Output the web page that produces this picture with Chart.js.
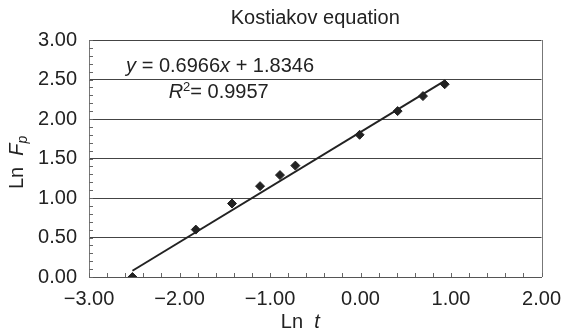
<!DOCTYPE html>
<html><head><meta charset="utf-8">
<script src="https://cdn.jsdelivr.net/npm/chart.js@4/dist/chart.umd.min.js"></script>
<style>html,body{margin:0;padding:0;background:#fff;}</style>
</head><body>
<canvas id="c" width="571" height="334" style="width:571px;height:334px;display:block"></canvas>
<script>
// Data
const lnT  = [-2.52, -1.82, -1.42, -1.11, -0.89, -0.72, -0.01, 0.41, 0.69, 0.93];
const lnFp = [ 0.00,  0.60,  0.93,  1.15,  1.29,  1.41,  1.80, 2.10, 2.29, 2.44];
const xTickLabels = ['\u22123.00','\u22122.00','\u22121.00','0.00','1.00','2.00'];
const yTickLabels = ['0.00','0.50','1.00','1.50','2.00','2.50','3.00'];
const titleText = 'Kostiakov equation';
const slope = 0.6966, intercept = 1.8346, r2 = '0.9957';

const FONT = '"Liberation Sans", Arial, Helvetica, sans-serif';
const INK = '#222';
const FS = 20;

const points = lnT.map((x, i) => ({x: x, y: lnFp[i]}));
const xMin = Math.min(...lnT), xMax = Math.max(...lnT);
const trend = [{x: xMin, y: slope * xMin + intercept}, {x: xMax, y: slope * xMax + intercept}];

function drawRuns(ctx, runs, x, y) {
  let cx = x;
  for (const r of runs) {
    ctx.font = (r.italic ? 'italic ' : '') + (r.size || FS) + 'px ' + FONT;
    ctx.fillText(r.t, cx, y + (r.dy || 0));
    cx += ctx.measureText(r.t).width;
  }
  return cx - x;
}
function measureRuns(ctx, runs) {
  let w = 0;
  for (const r of runs) {
    ctx.font = (r.italic ? 'italic ' : '') + (r.size || FS) + 'px ' + FONT;
    w += ctx.measureText(r.t).width;
  }
  return w;
}

const decor = {
  id: 'decor',
  afterDraw(chart) {
    const {ctx, chartArea: a, scales: {x, y}} = chart;
    ctx.save();
    // right border of plot box
    ctx.strokeStyle = '#777';
    ctx.lineWidth = 1;
    ctx.beginPath();
    ctx.moveTo(Math.round(a.right) + 0.5, a.top);
    ctx.lineTo(Math.round(a.right) + 0.5, a.bottom);
    ctx.stroke();
    // minor inward tick marks
    ctx.strokeStyle = '#666';
    ctx.beginPath();
    for (let i = 0; i <= 25; i++) {
      const px = Math.round(x.getPixelForValue(-3 + i * 0.2)) + 0.5;
      ctx.moveTo(px, a.bottom);
      ctx.lineTo(px, a.bottom - 4);
    }
    for (let i = 0; i <= 30; i++) {
      const py = Math.round(y.getPixelForValue(i * 0.1)) + 0.5;
      ctx.moveTo(a.left, py);
      ctx.lineTo(a.left + 4, py);
    }
    ctx.stroke();

    ctx.fillStyle = INK;
    ctx.textBaseline = 'alphabetic';
    ctx.textAlign = 'left';
    // trendline equation
    drawRuns(ctx, [
      {t: 'y', italic: true},
      {t: ' = 0.6966'},
      {t: 'x', italic: true},
      {t: ' + 1.8346'}
    ], x.getPixelForValue(-2.59), y.getPixelForValue(2.60));
    drawRuns(ctx, [
      {t: 'R', italic: true},
      {t: '2', size: 13, dy: -7},
      {t: '= ' + r2}
    ], x.getPixelForValue(-2.12), y.getPixelForValue(2.27));

    // x axis title
    const xt = [{t: 'Ln  '}, {t: 't', italic: true}];
    const xw = measureRuns(ctx, xt);
    drawRuns(ctx, xt, (a.left + a.right) / 2 - 15 - xw / 2, 328);

    // y axis title (rotated)
    ctx.translate(23, 189);
    ctx.rotate(-Math.PI / 2);
    drawRuns(ctx, [
      {t: 'Ln  '},
      {t: 'F', italic: true},
      {t: 'p', italic: true, size: 14, dy: 4}
    ], 0, 0);
    ctx.restore();
  }
};

new Chart(document.getElementById('c'), {
  type: 'scatter',
  data: {
    datasets: [
      {
        type: 'line',
        data: trend,
        borderColor: INK,
        borderWidth: 2,
        pointRadius: 0,
        fill: false,
        order: 2
      },
      {
        data: points,
        pointStyle: 'rectRot',
        pointRadius: 4.5,
        pointBackgroundColor: INK,
        pointBorderColor: INK,
        pointBorderWidth: 1,
        order: 1
      }
    ]
  },
  options: {
    responsive: false,
    devicePixelRatio: 1,
    animation: false,
    layout: {padding: {left: 0, right: 26, top: 0, bottom: 0}},
    plugins: {
      legend: {display: false},
      tooltip: {enabled: false},
      title: {
        display: true,
        text: titleText,
        fullSize: false,
        color: INK,
        font: {family: FONT, size: FS, weight: 'normal', lineHeight: 1.2},
        padding: {top: 6, bottom: 10}
      }
    },
    scales: {
      x: {
        type: 'linear',
        min: -3, max: 2,
        afterBuildTicks(s) { s.ticks = xTickLabels.map((_, i) => ({value: -3 + i})); },
        ticks: {
          stepSize: 1,
          color: INK,
          font: {family: FONT, size: FS},
          padding: 10,
          maxRotation: 0,
          autoSkip: false,
          callback: (v, i) => xTickLabels[i]
        },
        grid: {display: false, drawTicks: false},
        border: {display: true, color: '#555', width: 1},
        afterFit(s) { s.height = 57; }
      },
      y: {
        type: 'linear',
        min: 0, max: 3,
        afterBuildTicks(s) { s.ticks = yTickLabels.map((_, i) => ({value: i * 0.5})); },
        ticks: {
          stepSize: 0.5,
          color: INK,
          font: {family: FONT, size: FS},
          padding: 12,
          autoSkip: false,
          callback: (v, i) => yTickLabels[i]
        },
        grid: {display: true, color: '#444', lineWidth: 1, drawTicks: false},
        border: {display: true, color: '#777', width: 1},
        afterFit(s) { s.width = 89; }
      }
    }
  },
  plugins: [decor]
});
</script>
</body></html>
